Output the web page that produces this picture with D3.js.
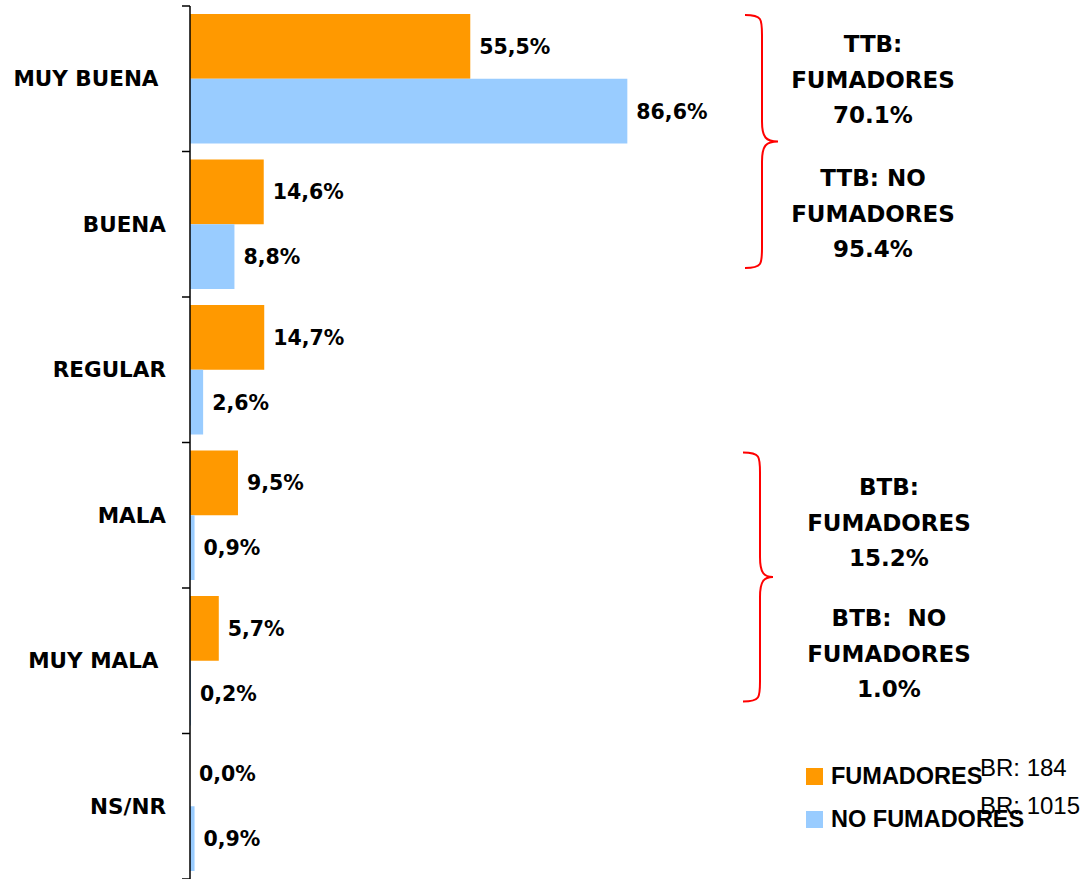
<!DOCTYPE html>
<html>
<head>
<meta charset="utf-8">
<script src="https://cdn.jsdelivr.net/npm/d3@7"></script>
<style>
  body { margin: 0; background: #fff; }
  svg { display: block; }
  text { white-space: pre; }
</style>
</head>
<body>
<script>
// data
var categories = ["MUY BUENA ", "BUENA", "REGULAR", "MALA", "MUY MALA ", "NS/NR"];
var series = ["FUMADORES", "NO FUMADORES"];
var fumadores = [55.5, 14.6, 14.7, 9.5, 5.7, 0.0];
var noFumadores = [86.6, 8.8, 2.6, 0.9, 0.2, 0.9];
var bases = ["BR: 184", "BR: 1015"];
var ttbLines = [["TTB:", "FUMADORES", "70.1%"], ["TTB: NO", "FUMADORES", "95.4%"]];
var btbLines = [["BTB:", "FUMADORES", "15.2%"], ["BTB:  NO", "FUMADORES", "1.0%"]];

var width = 1081, height = 879;
var colors = { "FUMADORES": "#FF9900", "NO FUMADORES": "#99CCFF" };

var svg = d3.select("body").append("svg")
    .attr("width", width)
    .attr("height", height);

var x = d3.scaleLinear().domain([0, 100]).range([190, 695]);
var y0 = d3.scaleBand().domain(categories).range([6, 879]);
var y1 = d3.scaleBand().domain(series).range([8, y0.bandwidth() - 8]);

var comma = d3.formatLocale({ decimal: ",", thousands: ".", grouping: [3], currency: ["", "€"] }).format(".1f");

var rows = categories.map(function (c, i) {
    return { cat: c, vals: [
        { s: "FUMADORES", v: fumadores[i] },
        { s: "NO FUMADORES", v: noFumadores[i] }
    ] };
});

var groups = svg.append("g").selectAll("g")
    .data(rows)
    .enter().append("g")
    .attr("transform", function (d) { return "translate(0," + y0(d.cat) + ")"; });

groups.selectAll("rect")
    .data(function (d) { return d.vals; })
    .enter().append("rect")
    .attr("x", x(0))
    .attr("y", function (d) { return y1(d.s); })
    .attr("width", function (d) { return x(d.v) - x(0); })
    .attr("height", y1.bandwidth())
    .attr("fill", function (d) { return colors[d.s]; });

groups.selectAll("text.val")
    .data(function (d) { return d.vals; })
    .enter().append("text")
    .attr("class", "val")
    .attr("x", function (d) { return x(d.v) + 9; })
    .attr("y", function (d) { return y1(d.s) + y1.bandwidth() / 2; })
    .attr("dy", "0.36em")
    .attr("font-family", "'DejaVu Sans', sans-serif")
    .attr("font-weight", "bold")
    .attr("font-size", 20.5)
    .text(function (d) { return comma(d.v) + "%"; });

// axis: ticks sit on the band edges
var axis = svg.append("g");
axis.append("line")
    .attr("x1", x(0)).attr("x2", x(0))
    .attr("y1", y0.range()[0]).attr("y2", height)
    .attr("stroke", "#000").attr("stroke-width", 1.5);
var edges = categories.map(function (c) { return y0(c); }).concat([y0.range()[1]]);
axis.selectAll("line.tick")
    .data(edges)
    .enter().append("line")
    .attr("class", "tick")
    .attr("x1", x(0) - 8).attr("x2", x(0))
    .attr("y1", function (d) { return d; }).attr("y2", function (d) { return d; })
    .attr("stroke", "#000").attr("stroke-width", 1.5);
axis.selectAll("text")
    .data(categories)
    .enter().append("text")
    .attr("x", 166)
    .attr("y", function (d) { return y0(d) + y0.bandwidth() / 2; })
    .attr("dy", "0.36em")
    .attr("text-anchor", "end")
    .attr("font-family", "'DejaVu Sans', sans-serif")
    .attr("font-weight", "bold")
    .attr("font-size", 21.5)
    .text(function (d) { return d; });

// curly braces
function brace(xl, top, bottom, w, xv) {
    var mid = (top + bottom) / 2;
    var r = 20;
    return "M" + xl + "," + top +
        " C" + xv + "," + top + " " + xv + "," + (top + 4) + " " + xv + "," + (top + r) +
        " L" + xv + "," + (mid - r) +
        " C" + xv + "," + (mid - 4) + " " + (xv + 4) + "," + mid + " " + (xl + w) + "," + mid +
        " C" + (xv + 4) + "," + mid + " " + xv + "," + (mid + 4) + " " + xv + "," + (mid + r) +
        " L" + xv + "," + (bottom - r) +
        " C" + xv + "," + (bottom - 4) + " " + xv + "," + bottom + " " + xl + "," + bottom;
}
svg.append("path")
    .attr("d", brace(745, y0(categories[0]) + 9, y0(categories[1]) + y0.bandwidth() - 29, 33, 762))
    .attr("fill", "none").attr("stroke", "#FF0000").attr("stroke-width", 2);
svg.append("path")
    .attr("d", brace(743, y0(categories[3]) + 10, y0(categories[4]) + y0.bandwidth() - 32, 30, 760))
    .attr("fill", "none").attr("stroke", "#FF0000").attr("stroke-width", 2);

function block(lines, cx, firstBaseline) {
    var t = svg.append("text")
        .attr("text-anchor", "middle")
        .attr("font-family", "'DejaVu Sans', sans-serif")
        .attr("font-weight", "bold")
        .attr("font-size", 23);
    lines.forEach(function (l, i) {
        t.append("tspan").attr("x", cx).attr("y", firstBaseline + i * 35.5).text(l);
    });
}
block(ttbLines[0], 873, 52);
block(ttbLines[1], 873, 186);
block(btbLines[0], 889, 495);
block(btbLines[1], 889, 626);

// legend
var legend = svg.append("g");
series.forEach(function (s, i) {
    var ly = 768 + i * 43;
    legend.append("rect")
        .attr("x", 806).attr("y", ly)
        .attr("width", 17).attr("height", 17)
        .attr("fill", colors[s]);
    legend.append("text")
        .attr("x", 831).attr("y", ly + 16)
        .attr("font-family", "'Liberation Sans', Arial, sans-serif")
        .attr("font-weight", "bold")
        .attr("font-size", 23.5)
        .text(s);
    legend.append("text")
        .attr("x", 980).attr("y", 776 + i * 38)
        .attr("font-family", "'Liberation Sans', Arial, sans-serif")
        .attr("font-size", 24)
        .text(bases[i]);
});
</script>
</body>
</html>
